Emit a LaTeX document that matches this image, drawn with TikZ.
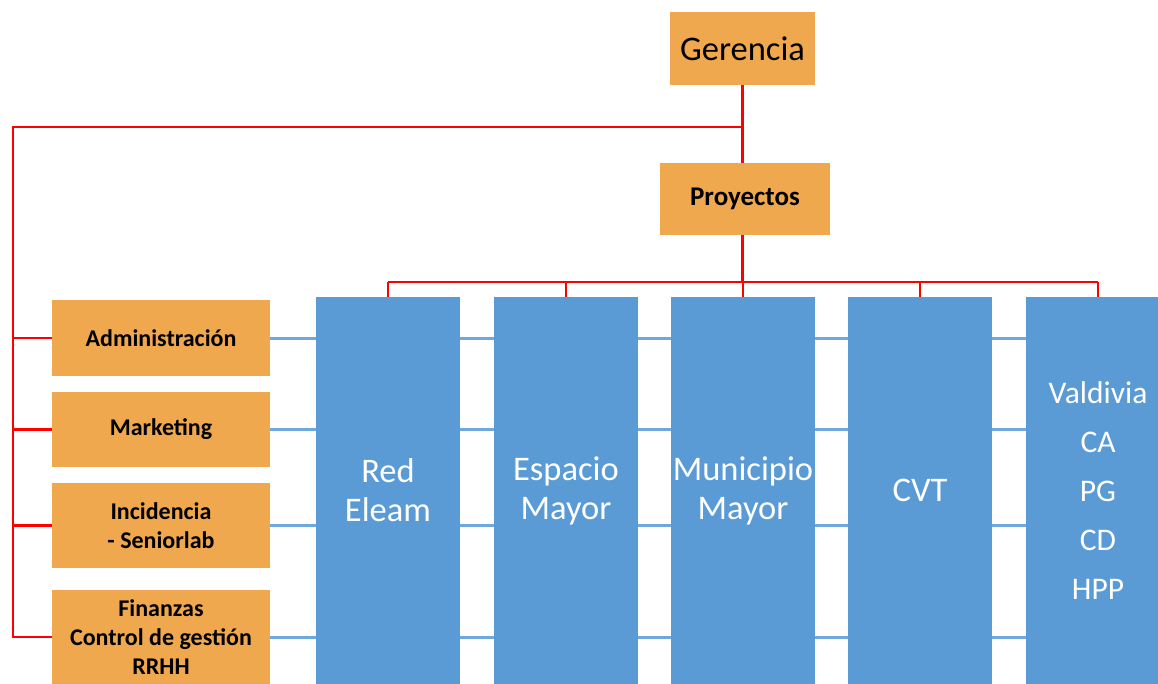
\documentclass[tikz,border=0pt]{standalone}
\usepackage{fontspec}
\setmainfont{Carlito}
\usetikzlibrary{backgrounds}
\definecolor{orangebox}{HTML}{EFA84D}
\definecolor{bluebox}{HTML}{5B9BD5}
\definecolor{blueline}{HTML}{6FA8DC}
\definecolor{redline}{HTML}{FF0000}
\tikzset{
  orangenode/.style={fill=orangebox, draw=none, inner sep=0pt, align=center, text=black},
  deptnode/.style={orangenode, minimum width=218pt, font=\fontsize{24}{29}\selectfont\bfseries},
  bluenode/.style={fill=bluebox, draw=none, inner sep=0pt, align=center, text=white, minimum width=144pt, minimum height=387pt},
  redconn/.style={draw=redline, line width=2.2pt},
  blueconn/.style={draw=blueline, line width=3pt}
}
\begin{document}
\begin{tikzpicture}[x=1pt,y=-1pt]
\useasboundingbox (0,0) rectangle (1158,684);
% top
\node[orangenode, minimum width=145pt, minimum height=73pt, font=\fontsize{34.5}{40}\selectfont] (ger) at (742.5,48.5) {Gerencia};
\node[orangenode, minimum width=170pt, minimum height=72pt, font=\fontsize{27}{32}\selectfont\bfseries] (proy) at (745,199) {Proyectos};
% departments
\node[deptnode, minimum height=76pt] (adm) at (161,338) {Administración};
\node[deptnode, minimum height=75pt] (mkt) at (161,429.5) {Marketing};
\node[deptnode, minimum height=85pt] (inc) at (161,525.5) {Incidencia\\- Seniorlab};
\node[deptnode, minimum height=94pt] (fin) at (161,637) {Finanzas\\Control de gestión\\RRHH};
% projects
\node[bluenode, font=\fontsize{34.5}{39}\selectfont] (b1) at (388,490.5) {Red\\Eleam};
\node[bluenode, font=\fontsize{34.5}{39}\selectfont] (b2) at (566,490.5) {Espacio\\Mayor};
\node[bluenode, font=\fontsize{34.5}{39}\selectfont] (b3) at (743,490.5) {Municipio\\Mayor};
\node[bluenode, font=\fontsize{34.5}{39}\selectfont] (b4) at (920,490.5) {CVT};
\node[bluenode, font=\fontsize{31.5}{49}\selectfont] (b5) at (1098,490.5) {Valdivia\\CA\\PG\\CD\\HPP};
% blue links behind
\begin{scope}[on background layer]
\foreach \d in {adm,mkt,inc,fin}{
  \draw[blueconn] (\d.east) -- (\d.east -| b5.west);
}
\end{scope}
% red connectors
\coordinate (L) at (13,127);
\coordinate (bus) at (0,282);
\draw[redconn] (ger.south) -- (ger.south |- proy.north);
\draw[redconn] (ger.south |- L) -- (L) |- (fin.west);
\foreach \d in {adm,mkt,inc}{
  \draw[redconn] (L |- \d.west) -- (\d.west);
}
\draw[redconn] (ger.south |- proy.south) -- (ger.south |- bus);
\draw[redconn] (b1.north |- bus) -- (b5.north |- bus);
\foreach \b in {b1,b2,b3,b4,b5}{
  \draw[redconn] (\b.north |- bus) -- (\b.north);
}
\end{tikzpicture}
\end{document}
